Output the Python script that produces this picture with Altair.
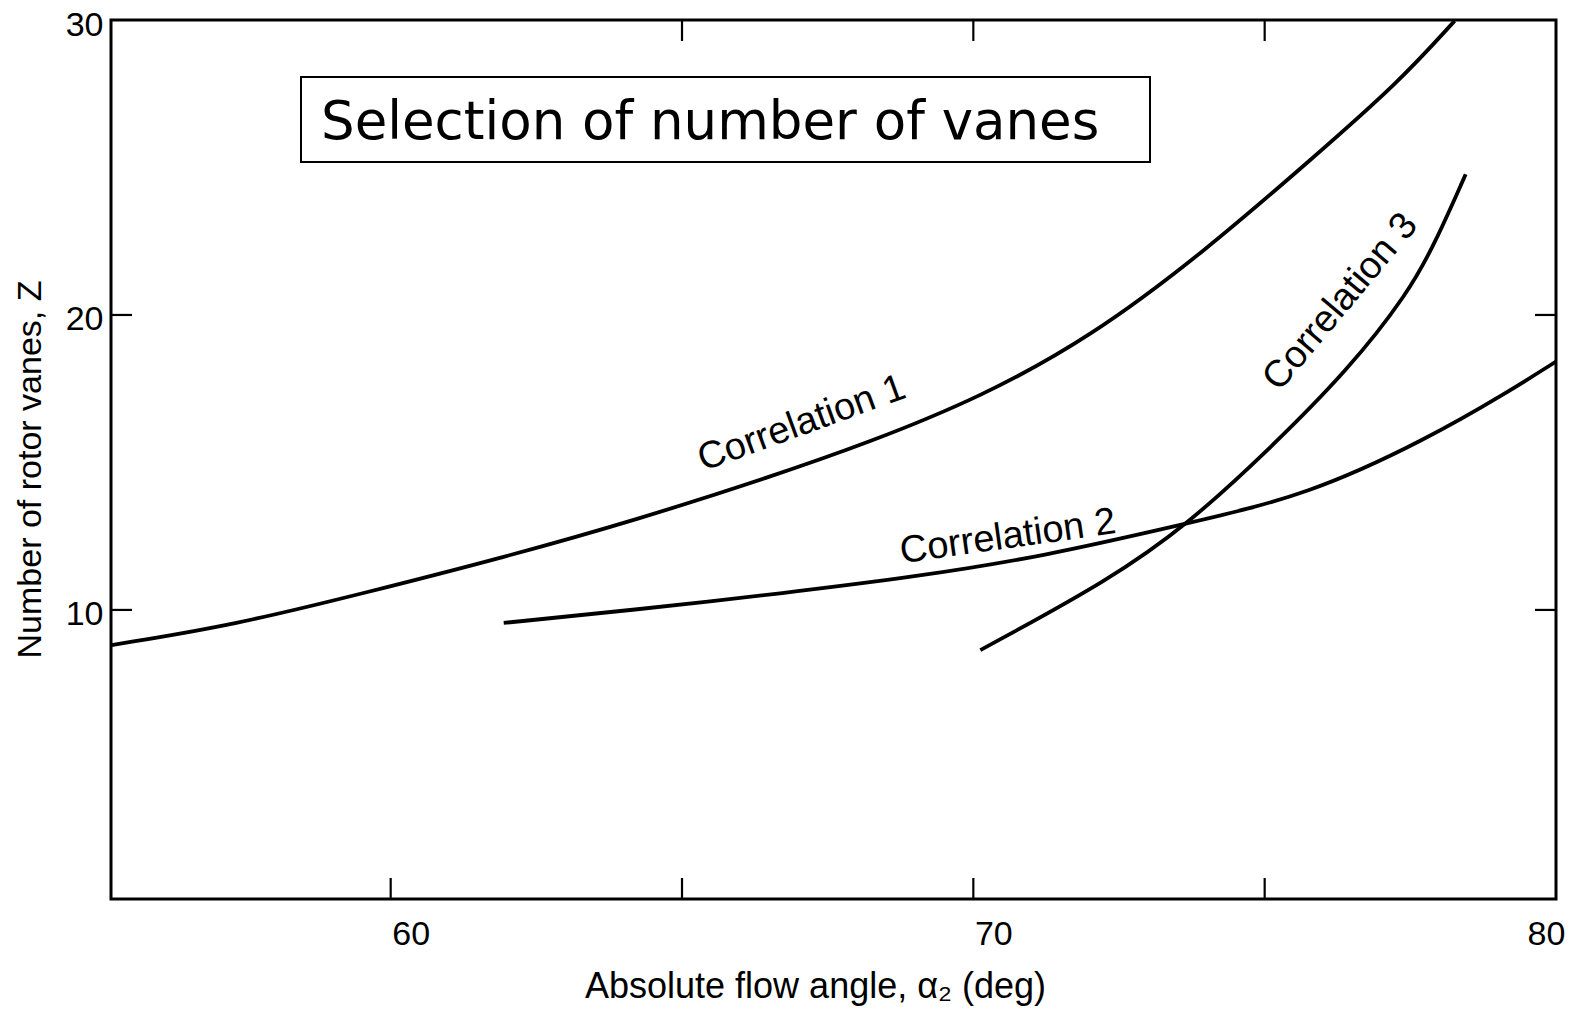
import altair as alt
import pandas as pd

# ---- data ----
x_corr1 = [55.21, 57.32, 59.62, 61.92, 64.23, 66.53, 68.20, 70.12, 72.03, 73.95, 75.86, 77.30, 78.26]
z_corr1 = [8.81, 9.49, 10.61, 11.77, 13.06, 14.52, 15.67, 17.20, 19.27, 22.12, 25.38, 27.89, 29.97]

x_corr2 = [61.94, 64.17, 66.79, 68.99, 71.17, 73.71, 75.75, 77.79, 79.16, 80.0]
z_corr2 = [9.56, 10.0, 10.58, 11.12, 11.80, 12.95, 13.90, 15.80, 17.37, 18.42]

x_corr3 = [70.12, 72.34, 73.71, 75.07, 76.44, 77.47, 77.93, 78.45]
z_corr3 = [8.64, 11.02, 12.95, 15.43, 18.15, 20.76, 22.46, 24.77]

series_names = ["Correlation 1", "Correlation 2", "Correlation 3"]

x_tick_labels = [60, 70, 80]
y_tick_labels = [10, 20, 30]
x_bottom_ticks = [60, 65, 70, 75]
x_top_ticks = [65, 70, 75]
y_side_ticks = [10, 20]

label_text = ["Correlation 1", "Correlation 2", "Correlation 3"]
label_x = [67.12, 70.62, 76.45]
label_y = [15.96, 12.10, 20.20]
label_angle = [340, 352, 310]

box_text = "Selection of number of vanes"
x_title = "Absolute flow angle, α₂ (deg)"
y_title = "Number of rotor vanes, Z"

# ---- tables ----
rows = []
for name, xs, zs in zip(series_names, [x_corr1, x_corr2, x_corr3], [z_corr1, z_corr2, z_corr3]):
    for a, z in zip(xs, zs):
        rows.append({"series": name, "angle": a, "Z": z})
lines_df = pd.DataFrame(rows)
labels_df = pd.DataFrame({"text": label_text, "lx": label_x, "ly": label_y, "ang": label_angle})

W, H = 1445, 879
FONT = "Liberation Sans"

xscale = alt.Scale(domain=[55.2, 80], nice=False, zero=False)
yscale = alt.Scale(domain=[0.2, 30], nice=False, zero=False)

xaxis = alt.Axis(
    values=x_tick_labels, title=x_title, domain=False, ticks=False, tickSize=0, grid=False,
    labelFont=FONT, labelFontSize=34, labelColor="black", labelPadding=18,
    labelFlush=False, labelOverlap=False,
    labelOffset={"condition": {"test": "datum.value === 80", "value": -10}, "value": 20},
    titleFont=FONT, titleFontSize=36, titleFontWeight="normal", titleColor="black",
    titleX=704, titleY=98, titleAlign="center", titleBaseline="alphabetic",
)
yaxis = alt.Axis(
    values=y_tick_labels, title=y_title, domain=False, ticks=False, tickSize=0, grid=False,
    labelFont=FONT, labelFontSize=34, labelColor="black", labelPadding=8,
    labelFlush=False, labelOverlap=False, labelOffset=5,
    titleFont=FONT, titleFontSize=34, titleFontWeight="normal", titleColor="black",
    titleX=-71, titleY=449, titleAngle=270, titleAlign="center", titleBaseline="alphabetic",
)


def X(field):
    return alt.X(field, type="quantitative", scale=xscale, axis=xaxis)


def Y(field):
    return alt.Y(field, type="quantitative", scale=yscale, axis=yaxis)


lines = alt.Chart(lines_df).mark_line(
    color="black", strokeWidth=3.8, interpolate="basis", clip=True
).encode(x=X("angle"), y=Y("Z"), detail="series:N")

tick_len = 21
bottom_ticks = alt.Chart(pd.DataFrame({"v": x_bottom_ticks})).mark_rule(
    color="black", strokeWidth=2.2).encode(x=X("v"), y=alt.value(H), y2=alt.value(H - tick_len))
top_ticks = alt.Chart(pd.DataFrame({"v": x_top_ticks})).mark_rule(
    color="black", strokeWidth=2.2).encode(x=X("v"), y=alt.value(0), y2=alt.value(tick_len))
left_ticks = alt.Chart(pd.DataFrame({"v": y_side_ticks})).mark_rule(
    color="black", strokeWidth=2.2).encode(y=Y("v"), x=alt.value(0), x2=alt.value(tick_len))
right_ticks = alt.Chart(pd.DataFrame({"v": y_side_ticks})).mark_rule(
    color="black", strokeWidth=2.2).encode(y=Y("v"), x=alt.value(W), x2=alt.value(W - tick_len))

labels = alt.Chart(labels_df).mark_text(
    font=FONT, fontSize=38, color="black", align="center", baseline="alphabetic"
).encode(x=X("lx"), y=Y("ly"), text="text:N", angle=alt.Angle("ang:Q", scale=None))

box_df = pd.DataFrame({"t": [box_text]})
box = alt.Chart(box_df).mark_rect(
    fill="white", stroke="black", strokeWidth=2
).encode(x=alt.value(190), x2=alt.value(1039), y=alt.value(57), y2=alt.value(142))
box_label = alt.Chart(box_df).mark_text(
    font="DejaVu Sans", fontSize=53, color="black", align="left", baseline="middle"
).encode(x=alt.value(210), y=alt.value(103), text="t:N")

chart = alt.layer(
    lines, bottom_ticks, top_ticks, left_ticks, right_ticks, labels, box, box_label
).properties(
    width=W, height=H,
    autosize=alt.AutoSizeParams(type="none"),
    padding={"left": 111, "top": 20, "right": 18, "bottom": 112},
    background="white",
).configure_view(stroke="black", strokeWidth=3)

chart.save("out.html", embed_options={"renderer": "svg", "actions": False})
